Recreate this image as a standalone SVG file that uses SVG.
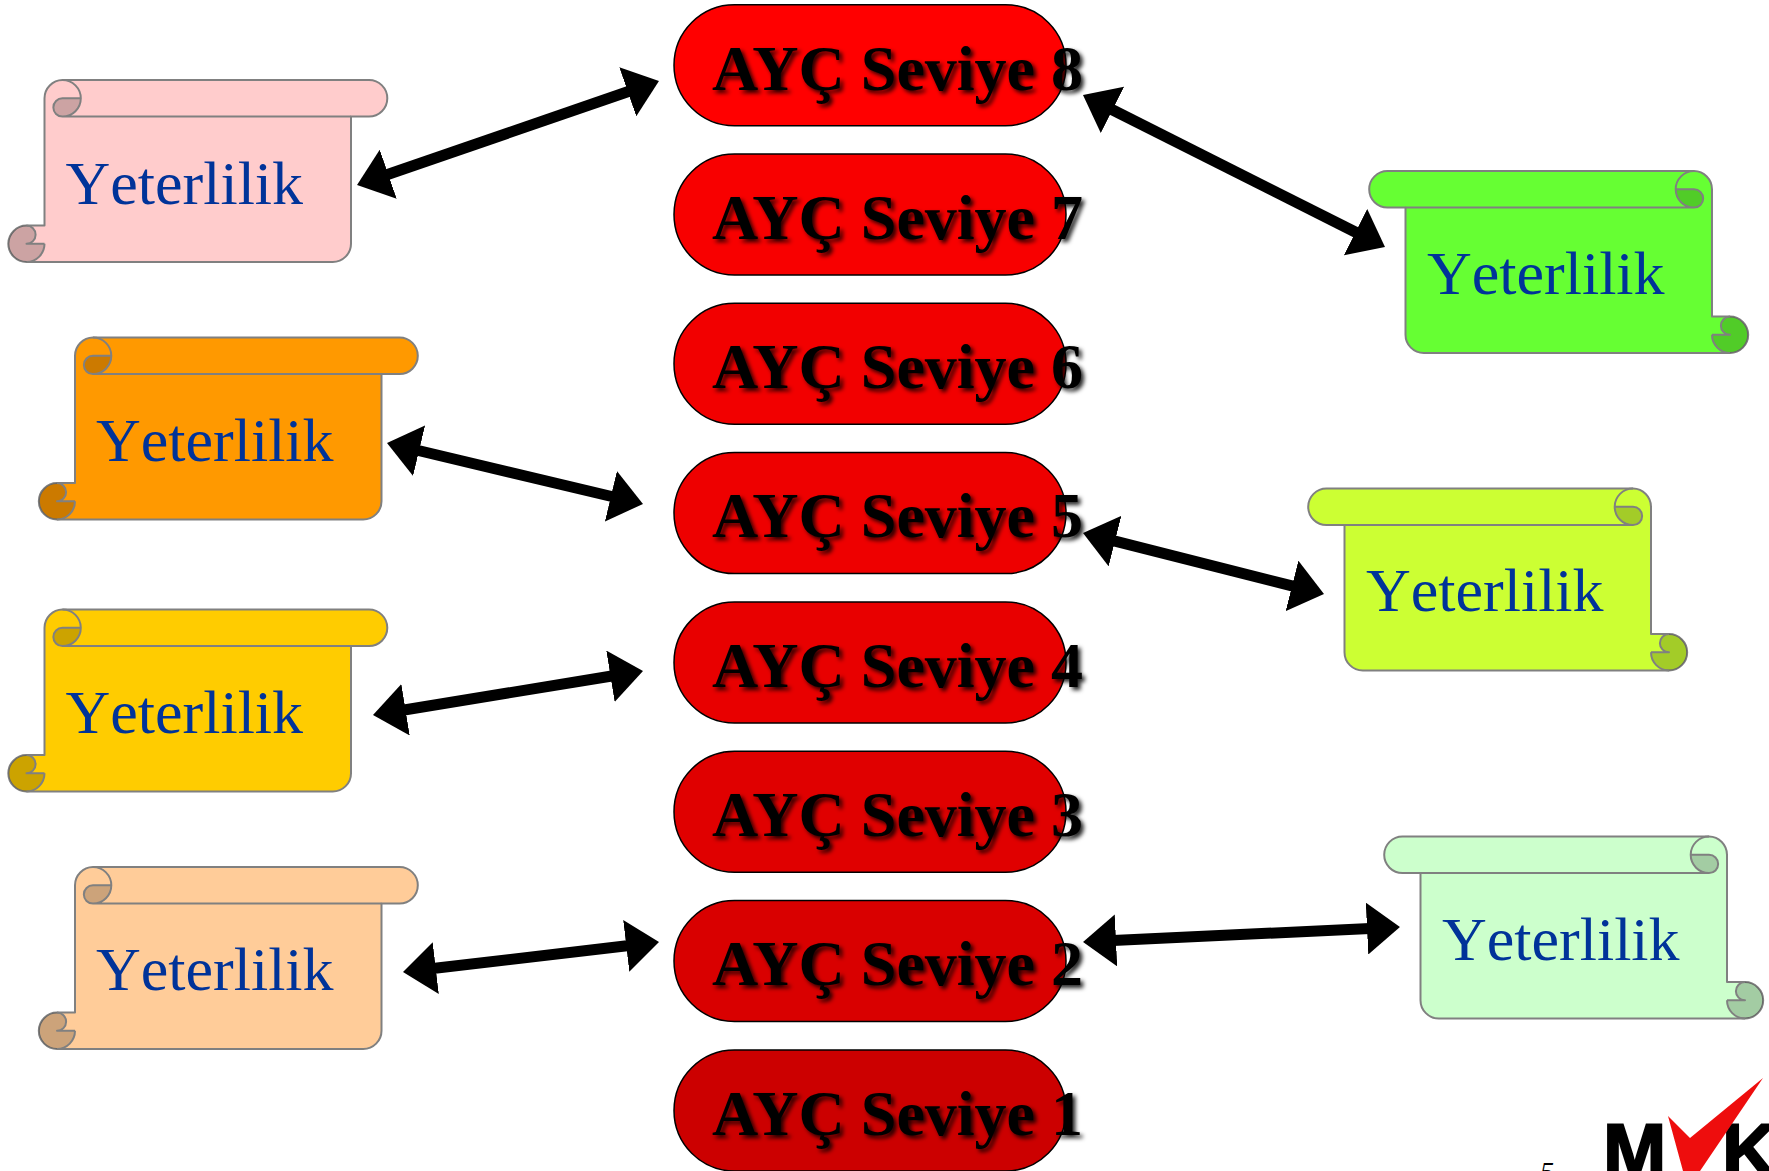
<svg xmlns="http://www.w3.org/2000/svg" width="1769" height="1171" viewBox="0 0 1769 1171">
<style>
.bg{fill:#fff}
.pill{stroke:#000;stroke-width:1.5}
.lvl{font:bold 64px "Liberation Serif","Times New Roman",serif;fill:#000;filter:url(#sh)}
.yet{font:62px "Liberation Serif","Times New Roman",serif;font-kerning:none;fill:#003399}
.ln{stroke:#808080;stroke-width:2;stroke-linejoin:round}
.dk{fill:#000;fill-opacity:.2;stroke:none}
.nf{fill:none}
.arr{stroke:#000;stroke-width:11;marker-start:url(#ah);marker-end:url(#ah)}
</style>
<defs>
<filter id="sh" x="-5%" y="-15%" width="112%" height="135%"><feDropShadow dx="3" dy="3" stdDeviation="2" flood-color="#000" flood-opacity=".85"/></filter>
<filter id="sf" x="-10%" y="-10%" width="120%" height="120%"><feGaussianBlur stdDeviation=".7"/></filter>
<marker id="ah" viewBox="0 0 33 52" markerUnits="userSpaceOnUse" markerWidth="33" markerHeight="52" refX="3" refY="26" orient="auto-start-reverse"><path d="M0,0L33,26L0,52Z" fill="#000"/></marker>
<g id="scroll">
<path class="ln" d="M18,0H324.5A18.3,18.3 0 0 1 324.5,36.6H306.5V163.7A18.3,18.3 0 0 1 288.2,182H-18A18.2,18.2 0 0 1 -18,145.6H0V18.3A18.3,18.3 0 0 1 18,0Z"/>
<path class="dk" d="M18,18.3A9.1,9.1 0 0 0 18,36.6A18.3,18.3 0 0 0 36.5,18.3Z"/>
<path class="dk" d="M-18,145.6A18.2,18.2 0 0 0 -18,182A18.2,18.2 0 0 0 0,163.8H-18A9.1,9.1 0 0 0 -18,145.6Z"/>
<path class="ln nf" d="M18,0A18.3,18.3 0 0 1 18,36.6A9.1,9.1 0 0 1 18,18.3H36.5M18,36.6H306.5"/>
<path class="ln nf" d="M-18,145.6A9.1,9.1 0 0 1 -18,163.8H0M-18,182A18.2,18.2 0 0 0 0,163.8"/>
</g>
</defs>
<rect class="bg" width="1769" height="1171"/>

<g id="scroll-left-1"><use href="#scroll" transform="translate(44.5,80)" fill="#ffcccc"/><text class="yet" x="65.5" y="203.5">Yeterlilik</text></g>
<g id="scroll-left-2"><use href="#scroll" transform="translate(75,337.5)" fill="#ff9900"/><text class="yet" x="96" y="460.5">Yeterlilik</text></g>
<g id="scroll-left-3"><use href="#scroll" transform="translate(44.5,609.5)" fill="#ffcc00"/><text class="yet" x="65.5" y="733">Yeterlilik</text></g>
<g id="scroll-left-4"><use href="#scroll" transform="translate(75,867)" fill="#ffcc99"/><text class="yet" x="96" y="990">Yeterlilik</text></g>
<g id="scroll-right-1"><use href="#scroll" transform="translate(1712,171) scale(-1,1)" fill="#66ff33"/><text class="yet" x="1427" y="294">Yeterlilik</text></g>
<g id="scroll-right-2"><use href="#scroll" transform="translate(1651,488.5) scale(-1,1)" fill="#ccff33"/><text class="yet" x="1366" y="611">Yeterlilik</text></g>
<g id="scroll-right-3"><use href="#scroll" transform="translate(1727,836.5) scale(-1,1)" fill="#ccffcc"/><text class="yet" x="1442" y="959.5">Yeterlilik</text></g>

<g id="level-8"><rect class="pill" x="674" y="4.7" width="392" height="121" rx="60.5" fill="#ff0000"/><text class="lvl" x="712" y="89.5">AYÇ Seviye 8</text></g>
<g id="level-7"><rect class="pill" x="674" y="154" width="392" height="121" rx="60.5" fill="#f80000"/><text class="lvl" x="712" y="238.8">AYÇ Seviye 7</text></g>
<g id="level-6"><rect class="pill" x="674" y="303.3" width="392" height="121" rx="60.5" fill="#f20000"/><text class="lvl" x="712" y="388.1">AYÇ Seviye 6</text></g>
<g id="level-5"><rect class="pill" x="674" y="452.6" width="392" height="121" rx="60.5" fill="#ee0000"/><text class="lvl" x="712" y="537.4">AYÇ Seviye 5</text></g>
<g id="level-4"><rect class="pill" x="674" y="601.9" width="392" height="121" rx="60.5" fill="#e80000"/><text class="lvl" x="712" y="686.7">AYÇ Seviye 4</text></g>
<g id="level-3"><rect class="pill" x="674" y="751.2" width="392" height="121" rx="60.5" fill="#e00000"/><text class="lvl" x="712" y="836">AYÇ Seviye 3</text></g>
<g id="level-2"><rect class="pill" x="674" y="900.5" width="392" height="121" rx="60.5" fill="#d90000"/><text class="lvl" x="712" y="985.3">AYÇ Seviye 2</text></g>
<g id="level-1"><rect class="pill" x="674" y="1050" width="392" height="121" rx="60.5" fill="#cc0000"/><text class="lvl" x="712" y="1134.8">AYÇ Seviye 1</text></g>

<g id="connectors">
<line class="arr" x1="385.4" y1="175.2" x2="630.6" y2="90.8"/>
<line class="arr" x1="1109.8" y1="108.5" x2="1358.2" y2="233.5"/>
<line class="arr" x1="416.2" y1="450" x2="613.8" y2="497"/>
<line class="arr" x1="402.6" y1="710.2" x2="613.4" y2="675.8"/>
<line class="arr" x1="432.8" y1="968.5" x2="629.2" y2="945.5"/>
<line class="arr" x1="1112.1" y1="540.4" x2="1294.9" y2="586.6"/>
<line class="arr" x1="1113" y1="940.6" x2="1370" y2="928.4"/>
</g>

<g id="footer">
<text x="1540" y="1181" font-family="Liberation Serif, serif" font-style="italic" font-size="28" fill="#000">5</text>
<g filter="url(#sf)">
<text x="1603" y="1177" font-family="Liberation Sans, Arial, sans-serif" font-weight="bold" font-size="76" stroke="#000" stroke-width="2" fill="#000">M</text>
<text x="1722" y="1177" font-family="Liberation Sans, Arial, sans-serif" font-weight="bold" font-size="76" stroke="#000" stroke-width="2" fill="#000">K</text>
<path d="M1668,1116L1690,1138L1763,1078L1700,1171H1683Z" fill="#ee1111"/>
</g>
</g>
</svg>
